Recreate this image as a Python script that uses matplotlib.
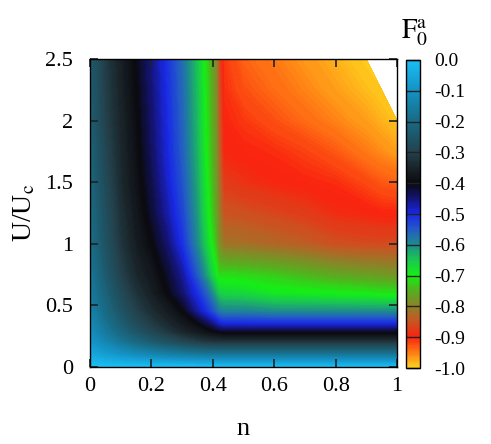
import numpy as np
import matplotlib
matplotlib.use("Agg")
import matplotlib.pyplot as plt
from matplotlib.colors import LinearSegmentedColormap, Normalize
from matplotlib.cm import ScalarMappable

plt.rcParams['font.family'] = ['Liberation Serif', 'DejaVu Serif']
plt.rcParams['mathtext.fontset'] = 'stix'
plt.rcParams['axes.unicode_minus'] = False

# grid
n_vals = [0, 0.05, 0.1, 0.15, 0.2, 0.25, 0.3, 0.35, 0.38, 0.41, 0.42,
          0.435, 0.5, 0.6, 0.7, 0.8, 0.9, 0.95, 1.0]
u_vals = [0, 0.1, 0.2, 0.28, 0.35, 0.45, 0.6, 0.75, 1.0, 1.25, 1.5, 1.75, 2.0, 2.25, 2.5]

nan = np.nan
# one row per U value (bottom to top), one column per n value
f0a = [
    [-0.0, -0.0, -0.0, -0.0, -0.0, -0.0, -0.0, -0.0, -0.0, -0.0, -0.0,
     -0.005, -0.005, -0.005, -0.005, -0.005, -0.005, -0.005, -0.005],
    [-0.05, -0.075, -0.095, -0.115, -0.13, -0.145, -0.155, -0.165, -0.17, -0.17, -0.17,
     -0.17, -0.17, -0.17, -0.17, -0.17, -0.17, -0.17, -0.17],
    [-0.09, -0.13, -0.17, -0.205, -0.235, -0.26, -0.285, -0.305, -0.315, -0.32, -0.32,
     -0.32, -0.32, -0.32, -0.32, -0.32, -0.32, -0.32, -0.32],
    [-0.11, -0.16, -0.21, -0.25, -0.285, -0.315, -0.345, -0.37, -0.385, -0.4, -0.405,
     -0.41, -0.41, -0.41, -0.41, -0.41, -0.41, -0.41, -0.41],
    [-0.12, -0.18, -0.23, -0.275, -0.31, -0.34, -0.37, -0.4, -0.43, -0.47, -0.49,
     -0.5, -0.5, -0.5, -0.5, -0.5, -0.5, -0.5, -0.5],
    [-0.14, -0.2, -0.255, -0.3, -0.335, -0.365, -0.4, -0.47, -0.51, -0.56, -0.58,
     -0.59, -0.59, -0.6, -0.6, -0.6, -0.6, -0.6, -0.6],
    [-0.16, -0.22, -0.28, -0.325, -0.36, -0.4, -0.445, -0.51, -0.56, -0.63, -0.655,
     -0.665, -0.67, -0.69, -0.695, -0.7, -0.705, -0.71, -0.71],
    [-0.17, -0.24, -0.3, -0.345, -0.375, -0.415, -0.465, -0.555, -0.62, -0.69, -0.72,
     -0.715, -0.72, -0.73, -0.745, -0.76, -0.77, -0.775, -0.78],
    [-0.19, -0.26, -0.32, -0.365, -0.4, -0.445, -0.51, -0.6, -0.665, -0.74, -0.785,
     -0.815, -0.82, -0.83, -0.84, -0.855, -0.86, -0.86, -0.86],
    [-0.2, -0.27, -0.33, -0.375, -0.42, -0.47, -0.53, -0.615, -0.685, -0.76, -0.8,
     -0.85, -0.855, -0.865, -0.875, -0.89, -0.895, -0.9, -0.9],
    [-0.21, -0.28, -0.34, -0.385, -0.43, -0.485, -0.545, -0.625, -0.695, -0.77, -0.815,
     -0.875, -0.885, -0.895, -0.9, -0.905, -0.92, -0.93, -0.935],
    [-0.22, -0.29, -0.345, -0.39, -0.44, -0.495, -0.555, -0.635, -0.705, -0.775, -0.83,
     -0.895, -0.9, -0.905, -0.915, -0.93, -0.95, -0.96, -0.97],
    [-0.23, -0.3, -0.35, -0.395, -0.445, -0.5, -0.56, -0.64, -0.71, -0.78, -0.84,
     -0.9, -0.91, -0.925, -0.94, -0.955, -0.97, -0.98, -0.99],
    [-0.235, -0.305, -0.355, -0.4, -0.45, -0.505, -0.565, -0.645, -0.715, -0.785, -0.85,
     -0.905, -0.925, -0.94, -0.955, -0.97, -0.985, -0.993, nan],
    [-0.24, -0.31, -0.36, -0.405, -0.455, -0.51, -0.57, -0.65, -0.72, -0.79, -0.86,
     -0.91, -0.935, -0.95, -0.965, -0.98, -0.997, nan, nan],
]

# palette picked from the colour box (value, rgb)
pal_vals = [-1.0, -0.95, -0.9, -0.85, -0.8, -0.75, -0.7, -0.65, -0.6, -0.55,
            -0.5, -0.45, -0.4, -0.35, -0.3, -0.2, -0.1, 0.0]
pal_rgb = [(255, 210, 30), (255, 120, 20), (250, 35, 15), (200, 85, 35),
           (140, 130, 40), (85, 175, 30), (20, 240, 20), (25, 200, 80),
           (30, 140, 140), (35, 90, 200), (25, 40, 230), (20, 20, 120),
           (10, 10, 15), (25, 35, 40), (35, 65, 75), (25, 105, 130),
           (20, 145, 195), (25, 190, 245)]

cb_ticks = [-1.0, -0.9, -0.8, -0.7, -0.6, -0.5, -0.4, -0.3, -0.2, -0.1, 0.0]
cb_labels = ['-1.0', '-0.9', '-0.8', '-0.7', '-0.6', '-0.5', '-0.4', '-0.3',
             '-0.2', '-0.1', '0.0']

cmap = LinearSegmentedColormap.from_list(
    'f0a', [(v + 1.0, tuple(c / 255 for c in rgb)) for v, rgb in zip(pal_vals, pal_rgb)])
norm = Normalize(vmin=-1.0, vmax=0.0)

fig = plt.figure(figsize=(4.91, 4.44), dpi=100)
ax = fig.add_axes([90 / 491, 77 / 444, 307 / 491, 308 / 444])
cax = fig.add_axes([406 / 491, 76 / 444, 14 / 491, 308 / 444])

Z = np.ma.masked_invalid(np.array(f0a))
ax.contourf(n_vals, u_vals, Z, levels=np.linspace(-1.0, 0.0, 301),
            cmap=cmap, norm=norm, antialiased=False, extend='both')

ax.set_xlim(0, 1)
ax.set_ylim(0, 2.5)
ax.set_xticks([0, 0.2, 0.4, 0.6, 0.8, 1])
ax.set_xticklabels(['0', '0.2', '0.4', '0.6', '0.8', '1'])
ax.set_yticks([0, 0.5, 1, 1.5, 2, 2.5])
ax.set_yticklabels(['0', '0.5', '1', '1.5', '2', '2.5'])
ax.tick_params(direction='in', top=True, right=True, length=6, width=1.2,
               color='#222222', labelsize=16, pad=7)
ax.tick_params(axis='y', pad=12)
ax.set_xlabel('n', fontsize=19, labelpad=16)
ax.set_ylabel(r'U/U$_\mathrm{c}$', fontsize=20, labelpad=6)
for s in ax.spines.values():
    s.set_linewidth(1.0)

cb = fig.colorbar(ScalarMappable(norm=norm, cmap=cmap), cax=cax)
cb.set_ticks(cb_ticks)
cb.set_ticklabels(cb_labels)
cax.tick_params(direction='in', left=True, right=True, length=5, width=1.0,
                color='#222222', labelsize=14, pad=10)
cb.outline.set_linewidth(1.0)
fig.text(415 / 491, 1 - 33 / 444, r'$\mathrm{F}_0^\mathrm{a}$', fontsize=20,
         ha='center', va='center')

fig.savefig('out.png', dpi=100)
